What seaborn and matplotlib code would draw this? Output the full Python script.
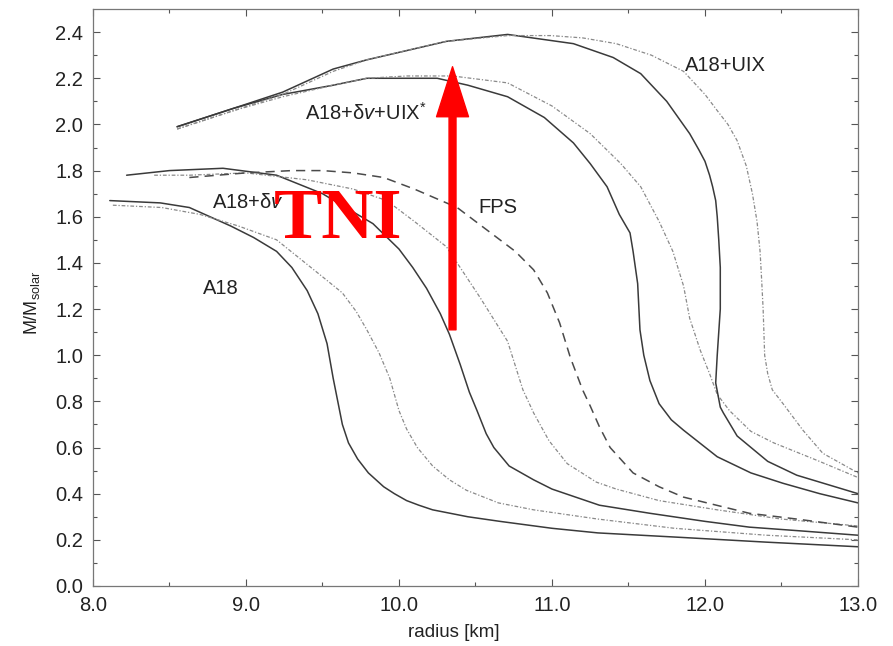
import numpy as np
import pandas as pd
import matplotlib
matplotlib.use("Agg")
import matplotlib.pyplot as plt
import seaborn as sns

# mass-radius curves: radius [km], mass [M_solar]
a18_r = [8.11, 8.44, 8.63, 8.90, 9.05, 9.20, 9.30, 9.40, 9.47, 9.53, 9.57, 9.60, 9.63, 9.67, 9.73,
         9.80, 9.85, 9.90, 9.97, 10.05, 10.13, 10.22, 10.45, 10.66, 11.0, 11.3, 11.86, 12.4, 13.0]
a18_m = [1.67, 1.66, 1.64, 1.56, 1.51, 1.45, 1.38, 1.28, 1.18, 1.05, 0.90, 0.80, 0.70, 0.62, 0.55,
         0.49, 0.46, 0.43, 0.40, 0.37, 0.35, 0.33, 0.30, 0.28, 0.25, 0.23, 0.21, 0.19, 0.17]

a18_dot_r = [8.13, 8.45, 8.70, 8.95, 9.20, 9.35, 9.50, 9.63, 9.72, 9.79, 9.87, 9.94, 10.00, 10.05,
             10.12, 10.22, 10.33, 10.44, 10.65, 10.88, 11.3, 11.8, 12.4, 13.0]
a18_dot_m = [1.65, 1.64, 1.61, 1.56, 1.50, 1.42, 1.34, 1.27, 1.19, 1.11, 1.01, 0.90, 0.76, 0.68,
             0.60, 0.52, 0.46, 0.415, 0.36, 0.33, 0.29, 0.25, 0.22, 0.20]

dv_r = [8.22, 8.5, 8.85, 9.2, 9.5, 9.83, 10.0, 10.09, 10.18, 10.27, 10.33, 10.40, 10.46, 10.51,
        10.57, 10.62, 10.72, 10.88, 11.0, 11.31, 11.64, 12.0, 12.29, 12.6, 13.0]
dv_m = [1.78, 1.80, 1.81, 1.78, 1.70, 1.57, 1.46, 1.38, 1.29, 1.18, 1.09, 0.96, 0.84, 0.76,
        0.66, 0.60, 0.52, 0.46, 0.42, 0.35, 0.315, 0.28, 0.255, 0.24, 0.22]

dv_dot_r = [8.4, 8.63, 9.0, 9.4, 9.7, 9.92, 10.1, 10.31, 10.53, 10.71, 10.81, 10.88, 10.98, 11.1,
            11.29, 11.42, 11.7, 12.08, 12.5, 13.0]
dv_dot_m = [1.78, 1.78, 1.79, 1.76, 1.72, 1.67, 1.58, 1.47, 1.25, 1.06, 0.85, 0.75, 0.63, 0.53,
            0.45, 0.42, 0.37, 0.33, 0.29, 0.26]

fps_r = [8.63, 9.0, 9.3, 9.5, 9.7, 9.9, 10.1, 10.38, 10.64, 10.76, 10.88, 10.97, 11.05, 11.12, 11.2,
         11.25, 11.31, 11.38, 11.53, 11.7, 11.86, 12.29, 12.6, 13.0]
fps_m = [1.77, 1.79, 1.80, 1.80, 1.79, 1.77, 1.72, 1.64, 1.51, 1.45, 1.37, 1.27, 1.14, 0.99, 0.85,
         0.78, 0.69, 0.60, 0.49, 0.43, 0.385, 0.315, 0.29, 0.255]

uixs_r = [8.55, 8.92, 9.24, 9.57, 9.79, 10.0, 10.25, 10.45, 10.71, 10.95, 11.14, 11.25, 11.36,
          11.44, 11.51, 11.53, 11.56, 11.575, 11.60, 11.64, 11.70, 11.78, 11.86, 12.08, 12.3,
          12.51, 12.75, 13.0]
uixs_m = [1.99, 2.07, 2.13, 2.17, 2.20, 2.20, 2.20, 2.17, 2.12, 2.03, 1.92, 1.83, 1.73,
          1.61, 1.53, 1.45, 1.31, 1.11, 1.00, 0.89, 0.79, 0.72, 0.675, 0.56, 0.49,
          0.445, 0.40, 0.36]

uixs_dot_r = [8.55, 8.92, 9.24, 9.57, 9.79, 10.05, 10.35, 10.71, 11.0, 11.25, 11.45, 11.58, 11.70,
              11.79, 11.86, 11.90, 11.97, 12.03, 12.08, 12.16, 12.30, 12.45, 12.73, 13.0]
uixs_dot_m = [1.98, 2.06, 2.12, 2.17, 2.20, 2.21, 2.21, 2.18, 2.08, 1.96, 1.83, 1.73, 1.58,
              1.45, 1.30, 1.16, 1.02, 0.92, 0.83, 0.76, 0.67, 0.62, 0.545, 0.47]

uix_r = [8.55, 8.92, 9.24, 9.57, 9.79, 10.05, 10.31, 10.71, 11.14, 11.40, 11.58, 11.75, 11.9, 11.96,
         12.0, 12.03, 12.05, 12.07, 12.08, 12.09, 12.10, 12.10, 12.09, 12.08, 12.07, 12.10, 12.12,
         12.21, 12.41, 12.6, 12.8, 13.0]
uix_m = [1.99, 2.07, 2.14, 2.24, 2.28, 2.32, 2.36, 2.39, 2.35, 2.29, 2.22, 2.10, 1.96, 1.89,
         1.84, 1.78, 1.73, 1.67, 1.60, 1.50, 1.38, 1.20, 1.10, 1.00, 0.88, 0.775, 0.75,
         0.65, 0.54, 0.48, 0.44, 0.40]

uix_dot_r = [8.55, 8.92, 9.24, 9.57, 9.79, 10.05, 10.31, 10.71, 10.99, 11.2, 11.42, 11.65, 11.86,
             12.0, 12.08, 12.15, 12.21, 12.27, 12.31, 12.34, 12.36, 12.37, 12.38, 12.385, 12.39,
             12.41, 12.44, 12.51, 12.64, 12.77, 13.0]
uix_dot_m = [1.98, 2.06, 2.13, 2.23, 2.28, 2.32, 2.36, 2.385, 2.385, 2.375, 2.35, 2.30, 2.23,
             2.13, 2.06, 2.00, 1.93, 1.82, 1.70, 1.58, 1.45, 1.33, 1.20, 1.10, 1.00,
             0.92, 0.85, 0.79, 0.675, 0.575, 0.49]

sns.set_style("ticks")
plt.rcParams['font.family'] = ['Liberation Sans', 'DejaVu Sans']
plt.rcParams['mathtext.fontset'] = 'custom'
plt.rcParams['mathtext.rm'] = 'Liberation Sans'
plt.rcParams['mathtext.it'] = 'Liberation Sans:italic'

fig = plt.figure(figsize=(8.93, 6.46), dpi=100)
ax = fig.add_axes([0.1041, 0.0929, 0.8567, 0.8931])

solid = dict(color='#3a3a3a', lw=1.1)
dotted = dict(color='#8a8a8a', lw=0.9, linestyle=(0, (3, 1.5, 1, 1.5)))
dashed = dict(color='#4a4a4a', lw=1.1, linestyle=(0, (6, 4)))

curves = [
    (a18_r, a18_m, solid), (a18_dot_r, a18_dot_m, dotted),
    (dv_r, dv_m, solid), (dv_dot_r, dv_dot_m, dotted),
    (fps_r, fps_m, dashed),
    (uixs_r, uixs_m, solid), (uixs_dot_r, uixs_dot_m, dotted),
    (uix_r, uix_m, solid), (uix_dot_r, uix_dot_m, dotted),
]
for r, m, st in curves:
    sns.lineplot(x=r, y=m, ax=ax, sort=False, estimator=None, **st)

ax.set_xlim(8.0, 13.0)
ax.set_ylim(0.0, 2.5)
ax.set_xticks(np.arange(8.0, 13.01, 1.0))
ax.set_xticks(np.arange(8.5, 13.0, 1.0), minor=True)
ax.set_yticks(np.arange(0.0, 2.41, 0.2))
ax.set_yticks(np.arange(0.1, 2.5, 0.2), minor=True)
ax.xaxis.set_major_formatter(matplotlib.ticker.FormatStrFormatter('%.1f'))
ax.yaxis.set_major_formatter(matplotlib.ticker.FormatStrFormatter('%.1f'))
ax.tick_params(which='both', direction='in', top=True, right=True, color='#555555', width=0.8)
ax.tick_params(which='major', length=5, labelsize=14.5, labelcolor='#222222', pad=7)
ax.tick_params(which='minor', length=3)
for s in ax.spines.values():
    s.set_color('#777777')
    s.set_linewidth(0.9)

ax.set_xlabel('radius [km]', fontsize=13.5, color='#222222')
ax.xaxis.set_label_coords(0.472, -0.066)
ax.set_ylabel(r'M/M$_{\mathrm{solar}}$', fontsize=13, color='#222222')
ax.yaxis.set_label_coords(-0.067, 0.49)

lab = dict(fontsize=14.5, color='#222222', va='center', ha='left')
ax.text(11.87, 2.255, 'A18+UIX', **lab)
ax.text(9.385, 2.05, r'A18+δ$v$+UIX$^{*}$', **lab)
ax.text(8.78, 1.66, r'A18+δ$v$', **lab)
ax.text(10.52, 1.64, 'FPS', **lab)
ax.text(8.72, 1.29, 'A18', **lab)

ax.annotate('', xy=(10.35, 2.25), xytext=(10.35, 1.11),
            arrowprops=dict(color='red', width=5, headwidth=23, headlength=36, shrink=0))
ax.text(9.18, 1.585, 'TNI', color='red', fontsize=52, fontweight='bold',
        family='Liberation Serif', va='center', ha='left')

fig.savefig('out.png', dpi=100)
